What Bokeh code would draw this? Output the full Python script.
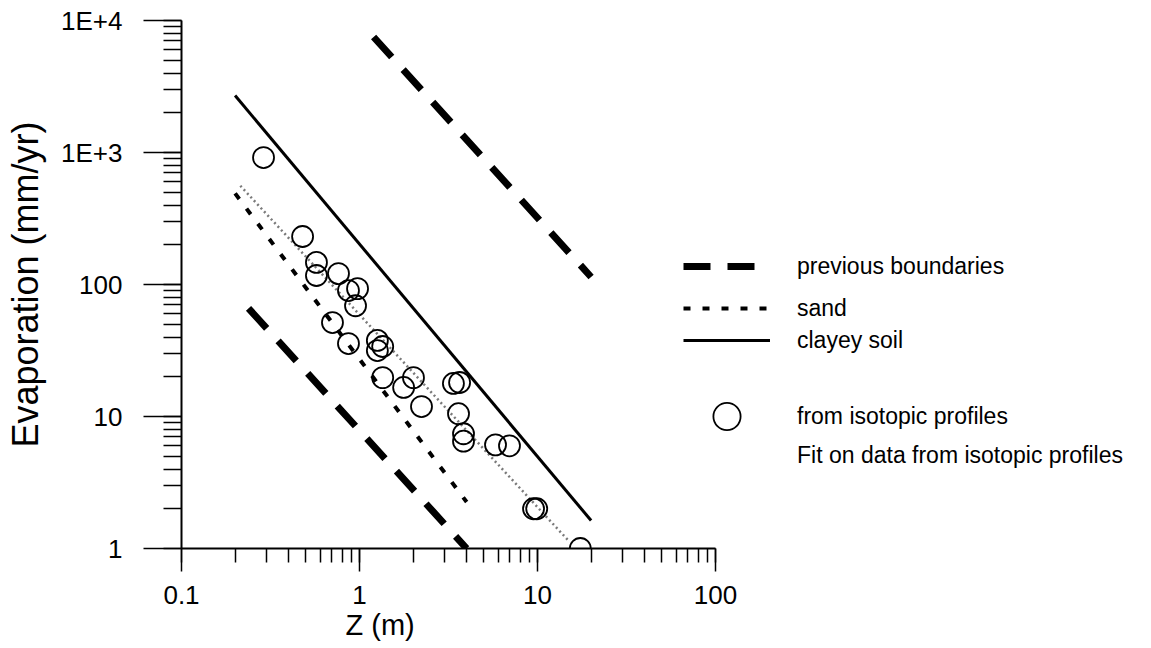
from bokeh.plotting import figure
from bokeh.models import Legend, LegendItem, LogTicker, Title
from bokeh.embed import file_html
from bokeh.resources import INLINE

# ---------------- data ----------------
iso_z = [0.289, 0.479, 0.573, 0.573, 0.762, 0.867, 0.975, 0.95, 0.705, 0.867,
         1.26, 1.26, 1.35, 1.35, 1.77, 2.01, 2.23, 3.37, 3.65, 3.6, 3.84, 3.84,
         5.81, 6.96, 9.5, 9.9, 17.4]
iso_e = [916, 231, 147, 117, 121, 90, 93, 69, 51.5, 35.7,
         37.7, 31.6, 33.9, 19.7, 16.6, 19.7, 11.9, 17.8, 18.1, 10.5, 7.4, 6.5,
         6.1, 6.0, 2.0, 2.0, 1.0]

prev_upper_z = [1.2, 20.0]
prev_upper_e = [7500.0, 114.0]
prev_lower_z = [0.238, 4.0]
prev_lower_e = [66.0, 1.0]
sand_z = [0.2, 4.0]
sand_e = [490.0, 2.25]
clay_z = [0.2, 20.0]
clay_e = [2700.0, 1.63]
fit_z = [0.214, 14.9]
fit_e = [560.0, 1.15]

x_ticks = [0.1, 1, 10, 100]
x_labels = ["0.1", "1", "10", "100"]
y_ticks = [1, 10, 100, 1000, 10000]
y_labels = ["1", "10", "100", "1E+3", "1E+4"]

FONT = "Liberation Sans"

# frame: left 181 px, 178 px per decade; the frame runs to the right edge so
# the legend (drawn inside the frame) is not clipped; the x axis is bounded.
W, H = 1151, 648
LEFT, TOP, BOTTOM = 181, 20, 100
PX_DECADE_X = 178.0
x_end = 10 ** (-1 + (W - LEFT) / PX_DECADE_X)

p = figure(width=W, height=H, x_axis_type="log", y_axis_type="log",
           x_range=(0.1, x_end), y_range=(1, 1e4),
           output_backend="svg", toolbar_location=None,
           min_border_left=LEFT, min_border_right=0,
           min_border_top=TOP, min_border_bottom=BOTTOM)
p.outline_line_color = None
p.grid.visible = False
p.background_fill_color = "white"
p.border_fill_color = "white"

r_up = p.line(prev_upper_z, prev_upper_e, line_color="black", line_width=7,
              line_dash="27 17")
p.line(prev_lower_z, prev_lower_e, line_color="black", line_width=7,
       line_dash="27 17")
r_sand = p.line(sand_z, sand_e, line_color="black", line_width=4,
                line_dash="7 12")
r_clay = p.line(clay_z, clay_e, line_color="black", line_width=3)
p.line(fit_z, fit_e, line_color="#7a7a7a", line_width=2.5, line_dash="2 3")
r_iso = p.scatter(iso_z, iso_e, marker="circle", size=21, fill_color=None,
                  line_color="black", line_width=1.8)
r_fit_leg = p.line(x=[], y=[], line_color="#555555", line_width=2.5,
                   line_dash="2 300")

# ---------------- axes ----------------
xa = p.xaxis[0]
xa.ticker = LogTicker(num_minor_ticks=10, desired_num_ticks=8)
xa.bounds = (x_ticks[0], x_ticks[-1])
xa.major_label_overrides = {float(t): l for t, l in zip(x_ticks, x_labels)}
xa.major_tick_out = 23
xa.major_tick_in = 0
xa.minor_tick_out = 14
xa.minor_tick_in = 0
xa.axis_line_width = 2
xa.major_tick_line_width = 1.5
xa.minor_tick_line_width = 1.5
xa.major_label_text_font = FONT
xa.major_label_text_font_size = "26px"
xa.major_label_text_color = "black"
xa.major_label_standoff = 14

ya = p.yaxis[0]
ya.ticker = LogTicker(num_minor_ticks=10)
ya.major_label_overrides = {float(t): l for t, l in zip(y_ticks, y_labels)}
ya.major_tick_out = 38
ya.major_tick_in = 0
ya.minor_tick_out = 18
ya.minor_tick_in = 0
ya.axis_line_width = 2
ya.major_tick_line_width = 1.5
ya.minor_tick_line_width = 1.5
ya.major_label_text_font = FONT
ya.major_label_text_font_size = "26px"
ya.major_label_text_color = "black"
ya.major_label_standoff = 21
ya.axis_label = "Evaporation (mm/yr)"
ya.axis_label_text_font = FONT
ya.axis_label_text_font_size = "36px"
ya.axis_label_text_font_style = "normal"
ya.axis_label_text_color = "black"
ya.axis_label_standoff = 12

p.add_layout(Title(text="Z (m)", align="left", offset=164, standoff=0,
                   vertical_align="bottom", text_font=FONT,
                   text_font_size="29px", text_font_style="normal",
                   text_color="black"), "below")

# ---------------- legends (one per row, placed in screen px) ----------------
common = dict(glyph_width=87, label_standoff=27, padding=0, margin=0,
              border_line_color=None, background_fill_alpha=0,
              label_text_font=FONT, label_text_font_size="23px",
              label_text_color="black", label_height=30, spacing=0)

rows = [
    ("previous boundaries", r_up, 30, 267),
    ("sand", r_sand, 30, 225),
    ("clayey soil", r_clay, 30, 193),
    ("from isotopic profiles", r_iso, 68, 98),
    ("Fit on data from isotopic profiles", r_fit_leg, 30, 78),
]
for label, rend, gh, vy in rows:
    p.add_layout(Legend(items=[LegendItem(label=label, renderers=[rend])],
                        location=(502, vy), glyph_height=gh, **common))

open("out.html", "w").write(file_html(p, INLINE))
